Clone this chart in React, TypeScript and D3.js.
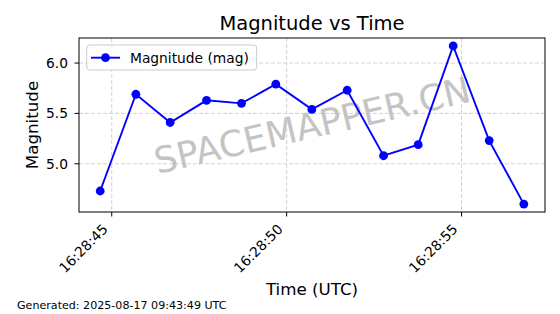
import React from "react";
import * as d3 from "d3";

const times = [
  "16:28:44.67", "16:28:45.69", "16:28:46.67", "16:28:47.71", "16:28:48.71",
  "16:28:49.69", "16:28:50.72", "16:28:51.73", "16:28:52.77", "16:28:53.76",
  "16:28:54.76", "16:28:55.79", "16:28:56.78",
];
const magnitudes = [4.73, 5.69, 5.41, 5.63, 5.6, 5.79, 5.54, 5.73, 5.08, 5.19, 6.17, 5.23, 4.6];
const yTicks = [5.0, 5.5, 6.0];
const titleText = "Magnitude vs Time";
const xLabel = "Time (UTC)";
const yLabel = "Magnitude";
const legendLabel = "Magnitude (mag)";
const watermark = "SPACEMAPPER.CN";
const footer = "Generated: 2025-08-17 09:43:49 UTC";
const DAY = "2025-08-17T";

const W = 560, H = 314;
const L = 79, R = 545, T = 38, B = 212;
const FONT = "'DejaVu Sans', sans-serif";
const BLUE = "#0000ff";

export default function App() {
  const dates = times.map((t) => new Date(DAY + t + "Z"));
  const data = dates.map((d, i) => ({ d, v: magnitudes[i] }));

  const [t0, t1] = d3.extent(dates) as [Date, Date];
  const xPad = (t1.getTime() - t0.getTime()) * 0.05;
  const x = d3.scaleUtc()
    .domain([new Date(t0.getTime() - xPad), new Date(t1.getTime() + xPad)])
    .range([L, R]);
  const [v0, v1] = d3.extent(magnitudes) as [number, number];
  const yPad = (v1 - v0) * 0.05;
  const y = d3.scaleLinear().domain([v0 - yPad, v1 + yPad]).range([B, T]);

  const xTicks = x.ticks(d3.utcSecond.every(5)!);
  const fmt = d3.utcFormat("%H:%M:%S");
  const fmtY = d3.format(".1f");

  const line = d3.line<{ d: Date; v: number }>().x((p) => x(p.d)).y((p) => y(p.v));

  const cx = (L + R) / 2, cy = (T + B) / 2;

  return (
    <div style={{ position: "fixed", left: 0, top: 0 }}>
      <svg width={W} height={H} style={{ display: "block", background: "#fff" }} fontFamily={FONT}>
        <rect x={0} y={0} width={W} height={H} fill="#fff" />
        {/* grid */}
        <g stroke="#c8c8c8" strokeWidth={0.8} strokeDasharray="4,2">
          {xTicks.map((t, i) => (
            <line key={"gx" + i} x1={x(t)} x2={x(t)} y1={T} y2={B} />
          ))}
          {yTicks.map((v, i) => (
            <line key={"gy" + i} x1={L} x2={R} y1={y(v)} y2={y(v)} />
          ))}
        </g>
        {/* watermark */}
        <text
          x={cx}
          y={cy}
          transform={`rotate(-13 ${cx} ${cy})`}
          textAnchor="middle"
          dy="0.36em"
          fontSize={36}
          fill="#c4c4c4"
        >
          {watermark}
        </text>
        {/* series */}
        <path d={line(data) || ""} fill="none" stroke={BLUE} strokeWidth={1.9} />
        {data.map((p, i) => (
          <circle key={"pt" + i} cx={x(p.d)} cy={y(p.v)} r={4.4} fill={BLUE} />
        ))}
        {/* axes frame */}
        <rect x={L} y={T} width={R - L} height={B - T} fill="none" stroke="#000" strokeWidth={1} />
        {/* x ticks */}
        {xTicks.map((t, i) => {
          const tx = x(t);
          const ex = tx - 3, ey = 230;
          return (
            <g key={"xt" + i}>
              <line x1={tx} x2={tx} y1={B} y2={B + 4.5} stroke="#000" strokeWidth={1} />
              <text x={ex} y={ey} transform={`rotate(-45 ${ex} ${ey})`} textAnchor="end" fontSize={13.8} fill="#000">
                {fmt(t)}
              </text>
            </g>
          );
        })}
        {/* y ticks */}
        {yTicks.map((v, i) => (
          <g key={"yt" + i}>
            <line x1={L - 4.5} x2={L} y1={y(v)} y2={y(v)} stroke="#000" strokeWidth={1} />
            <text x={68} y={y(v)} dy="0.36em" textAnchor="end" fontSize={13.8} fill="#000">
              {fmtY(v)}
            </text>
          </g>
        ))}
        {/* legend */}
        <rect x={86.7} y={45} width={170} height={25} rx={3} fill="#fff" fillOpacity={0.8} stroke="#cccccc" strokeWidth={1} />
        <line x1={91} x2={120} y1={57.7} y2={57.7} stroke={BLUE} strokeWidth={1.9} />
        <circle cx={105.5} cy={57.7} r={4.4} fill={BLUE} />
        <text x={130} y={62.6} fontSize={13.8} fill="#000">{legendLabel}</text>
        {/* title & labels */}
        <text x={cx} y={29.8} textAnchor="middle" fontSize={19.5} fill="#000">{titleText}</text>
        <text x={cx} y={295} textAnchor="middle" fontSize={16.7} fill="#000">{xLabel}</text>
        <text x={38} y={cy} transform={`rotate(-90 38 ${cy})`} textAnchor="middle" fontSize={16.7} fill="#000">
          {yLabel}
        </text>
        <text x={17} y={309} fontSize={11.1} fill="#000">{footer}</text>
      </svg>
    </div>
  );
}
